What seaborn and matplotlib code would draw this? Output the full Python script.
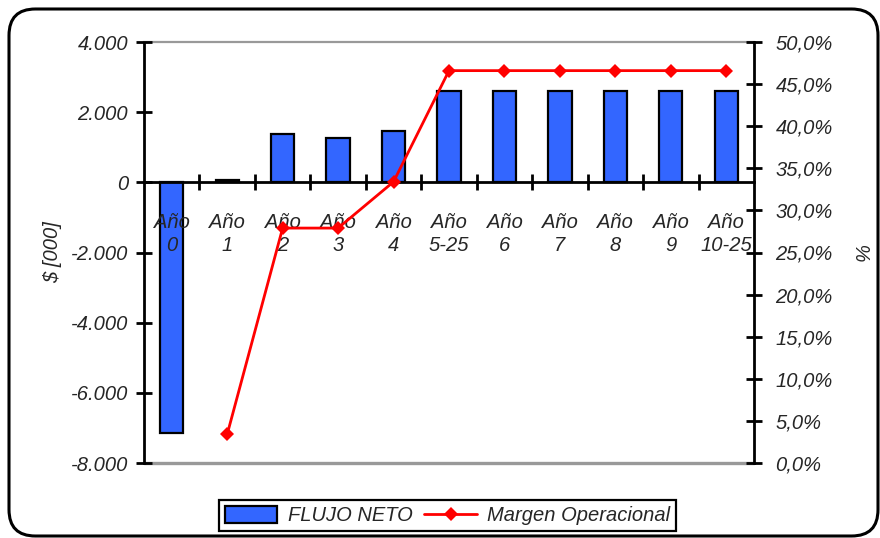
import numpy as np
import pandas as pd
import matplotlib
matplotlib.use("Agg")
import matplotlib.pyplot as plt
import seaborn as sns
from matplotlib.patches import FancyBboxPatch, Patch
from matplotlib.lines import Line2D
from matplotlib.ticker import FixedLocator, FuncFormatter

# Datos del flujo de caja por periodo
categorias = ["Año\n0", "Año\n1", "Año\n2", "Año\n3", "Año\n4", "Año\n5-25",
              "Año\n6", "Año\n7", "Año\n8", "Año\n9", "Año\n10-25"]
flujo_neto = [-7150, 80, 1390, 1250, 1470, 2600, 2600, 2600, 2600, 2600, 2600]
margen_operacional = [np.nan, 3.4, 27.9, 27.9, 33.4, 46.6, 46.6, 46.6, 46.6, 46.6, 46.6]

ticks_flujo = [-8000, -6000, -4000, -2000, 0, 2000, 4000]
ticks_margen = [0, 5, 10, 15, 20, 25, 30, 35, 40, 45, 50]

sns.set_theme(style="white")
plt.rcParams["font.family"] = ["Liberation Sans", "DejaVu Sans"]
plt.rcParams["font.style"] = "italic"

FS = 14.5
W, H = 880, 538
fig = plt.figure(figsize=(W / 100, H / 100), dpi=100)
fig.patch.set_facecolor("white")

# Marco redondeado exterior
marco = FancyBboxPatch((9 / W, 1 - 536 / H), 869 / W, 527 / H,
                       boxstyle="round,pad=0,rounding_size=0.03",
                       transform=fig.transFigure, fill=False,
                       edgecolor="black", linewidth=2.2, mutation_aspect=W / H)
fig.patches.append(marco)

ax = fig.add_axes([144 / W, 1 - 463 / H, 610 / W, 421 / H])

df = pd.DataFrame({"periodo": categorias, "flujo": flujo_neto})
sns.barplot(data=df, x="periodo", y="flujo", ax=ax, color="#3366FF",
            saturation=1, width=0.42, edgecolor="black", linewidth=1.6, zorder=2)
ax.set_axisbelow(False)

n = len(categorias)
ax.set_xlim(-0.5, n - 0.5)
ax.set_ylim(-8000, 4000)
ax.set_xlabel("")
ax.set_ylabel("$ [000]", fontsize=FS, labelpad=6, style="italic")

# Eje y izquierdo
ax.yaxis.set_major_locator(FixedLocator(ticks_flujo))
ax.yaxis.set_major_formatter(FuncFormatter(
    lambda v, p: "0" if v == 0 else f"{int(v):,}".replace(",", ".")))
ax.tick_params(axis="y", which="major", direction="inout", length=11,
               width=2, color="black", labelsize=FS, pad=6, left=True)

# Eje x sobre la línea del cero: marcas entre categorías, etiquetas centradas
ax.spines["bottom"].set_position(("data", 0))
ax.spines["bottom"].set_color("black")
ax.spines["bottom"].set_linewidth(2)
ax.xaxis.set_major_locator(FixedLocator(np.arange(0.5, n - 1, 1.0)))
ax.xaxis.set_minor_locator(FixedLocator(np.arange(n)))
ax.set_xticklabels([], minor=False)
ax.set_xticklabels(categorias, minor=True)
ax.tick_params(axis="x", which="major", direction="inout", length=11,
               width=2, color="black", bottom=True, labelbottom=False)
ax.tick_params(axis="x", which="minor", length=0, labelsize=FS, pad=22,
               bottom=True)
for t in ax.get_xticklabels(minor=True):
    t.set_linespacing(1.3)

ax.spines["left"].set_color("black")
ax.spines["left"].set_linewidth(2)
ax.spines["top"].set_color("#999999")
ax.spines["top"].set_linewidth(1.6)
ax.spines["right"].set_visible(False)
ax.axhline(-8000, color="#999999", linewidth=2.4, clip_on=False, zorder=1)

# Margen operacional en eje secundario
ax2 = ax.twinx()
dl = pd.DataFrame({"pos": np.arange(n), "margen": margen_operacional}).dropna()
sns.lineplot(data=dl, x="pos", y="margen", ax=ax2, color="#FF0000",
             linewidth=2, marker="D", markersize=7, markeredgewidth=0,
             sort=False, zorder=4)
ax2.set_ylim(0, 50)
ax2.set_xlim(-0.5, n - 0.5)
ax2.yaxis.set_major_locator(FixedLocator(ticks_margen))
ax2.yaxis.set_major_formatter(FuncFormatter(
    lambda v, p: f"{v:.1f}%".replace(".", ",")))
ax2.tick_params(axis="y", which="major", direction="inout", length=11,
                width=2, color="black", labelsize=FS, pad=10, right=True)
ax2.set_ylabel("%", fontsize=FS, labelpad=16, style="italic")
ax2.set_xlabel("")
for s in ["left", "top", "bottom"]:
    ax2.spines[s].set_visible(False)
ax2.spines["right"].set_color("black")
ax2.spines["right"].set_linewidth(2)

# Leyenda inferior
handles = [Patch(facecolor="#3366FF", edgecolor="black", linewidth=1.6,
                 label="FLUJO NETO"),
           Line2D([0], [0], color="#FF0000", linewidth=2, marker="D",
                  markersize=7, markeredgewidth=0, label="Margen Operacional")]
leg = fig.legend(handles=handles, loc="center", ncol=2,
                 bbox_to_anchor=(447.5 / W, 1 - 515.5 / H),
                 fontsize=FS, frameon=True, fancybox=False, framealpha=1,
                 edgecolor="black", handlelength=2.6, handleheight=0.9,
                 columnspacing=0.6, handletextpad=0.5, borderpad=0.3,
                 borderaxespad=0)
leg.get_frame().set_linewidth(1.6)
for t in leg.get_texts():
    t.set_style("italic")

fig.savefig("out.png", dpi=100)
